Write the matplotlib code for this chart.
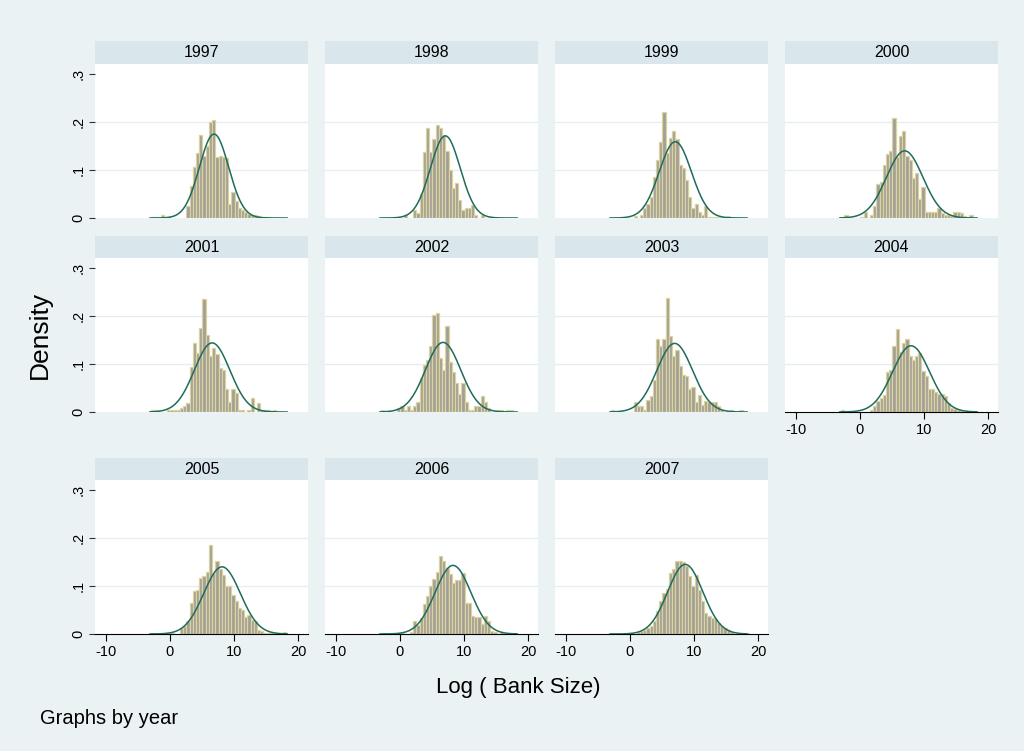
import numpy as np
import matplotlib
matplotlib.use('Agg')
import matplotlib.pyplot as plt

plt.rcParams['font.family'] = ['Liberation Sans', 'DejaVu Sans']

# histogram bins: left edge of first bin and width (Log bank size)
bin_start = -2.9
bin_width = 0.5

years = [1997, 1998, 1999, 2000, 2001, 2002, 2003, 2004, 2005, 2006, 2007]

# density of each bin
d1997 = [0.002, 0.003, 0, 0.006, 0, 0.003, 0, 0, 0, 0, 0, 0.026, 0.067, 0.107, 0.135,
         0.174, 0.13, 0.15, 0.2, 0.204, 0.128, 0.13, 0.128, 0.125, 0.03, 0.055, 0.035,
         0.02, 0.017, 0.012, 0.008, 0.006, 0.006, 0.004, 0.003, 0.003, 0.002, 0, 0, 0, 0, 0, 0]
d1998 = [0, 0, 0, 0, 0, 0, 0, 0.006, 0, 0, 0.017, 0.01, 0.05, 0.137, 0.187, 0.137, 0.165,
         0.194, 0.187, 0.172, 0.14, 0.1, 0.062, 0.072, 0.037, 0.017, 0.02, 0.02, 0.027,
         0.006, 0, 0.006, 0, 0, 0, 0, 0, 0, 0, 0, 0, 0, 0]
d1999 = [0, 0, 0, 0, 0, 0, 0, 0.004, 0, 0.006, 0.02, 0.03, 0.043, 0.085, 0.12, 0.159, 0.22,
         0.135, 0.166, 0.182, 0.165, 0.11, 0.105, 0.08, 0.043, 0.02, 0.03, 0.013, 0.006,
         0.024, 0.003, 0.003, 0.003, 0.003, 0, 0, 0.004, 0, 0, 0, 0, 0, 0]
d2000 = [0, 0.006, 0, 0, 0, 0, 0.003, 0.013, 0, 0.006, 0.026, 0.07, 0.075, 0.11, 0.133,
         0.14, 0.209, 0.128, 0.17, 0.182, 0.13, 0.12, 0.084, 0.093, 0.04, 0.065, 0.013,
         0.013, 0.013, 0.013, 0.02, 0.01, 0.006, 0.006, 0.004, 0.013, 0.013, 0.01, 0.004,
         0, 0.006, 0, 0]
d2001 = [0.005, 0.005, 0, 0, 0, 0.005, 0.005, 0.005, 0.005, 0.008, 0.012, 0.019, 0.094,
         0.144, 0.122, 0.175, 0.236, 0.161, 0.116, 0.133, 0.12, 0.092, 0.088, 0.047, 0.02,
         0.048, 0.04, 0.005, 0.005, 0, 0.005, 0.029, 0, 0.019, 0.005, 0.005, 0.005, 0,
         0.005, 0, 0, 0, 0]
d2002 = [0.005, 0, 0, 0, 0, 0.008, 0.012, 0.005, 0.012, 0.005, 0.012, 0.02, 0.07, 0.097,
         0.109, 0.137, 0.203, 0.207, 0.113, 0.088, 0.18, 0.104, 0.083, 0.06, 0.038, 0.06,
         0.02, 0.005, 0.005, 0.012, 0.012, 0.033, 0.02, 0.008, 0, 0, 0.005, 0.005, 0,
         0.005, 0.005, 0, 0]
d2003 = [0.005, 0, 0, 0, 0, 0, 0, 0.02, 0.012, 0.012, 0.005, 0.026, 0.033, 0.067, 0.152,
         0.137, 0.152, 0.238, 0.158, 0.116, 0.13, 0.095, 0.078, 0.074, 0.047, 0.053, 0.02,
         0.036, 0.015, 0.023, 0.02, 0.02, 0.02, 0.012, 0.005, 0, 0, 0.005, 0, 0, 0.005, 0, 0]
d2004 = [0.005, 0.003, 0.003, 0, 0, 0, 0, 0, 0, 0.005, 0.012, 0.022, 0.029, 0.035, 0.083,
         0.088, 0.137, 0.173, 0.126, 0.144, 0.153, 0.116, 0.108, 0.116, 0.123, 0.085,
         0.074, 0.047, 0.047, 0.041, 0.037, 0.038, 0.034, 0.019, 0.008, 0.006, 0.005,
         0.003, 0, 0.003, 0.003, 0.003, 0]
d2005 = [0.002, 0, 0, 0, 0, 0, 0.002, 0, 0, 0.013, 0.016, 0.027, 0.065, 0.09, 0.091, 0.117,
         0.12, 0.13, 0.186, 0.128, 0.152, 0.135, 0.123, 0.1, 0.1, 0.082, 0.068, 0.055,
         0.051, 0.036, 0.04, 0.03, 0.027, 0.009, 0.006, 0.002, 0.002, 0.002, 0.002, 0, 0,
         0.004, 0]
d2006 = [0.002, 0, 0, 0.002, 0, 0, 0.002, 0, 0, 0.004, 0.027, 0.018, 0.034, 0.062, 0.079,
         0.1, 0.115, 0.13, 0.162, 0.152, 0.138, 0.126, 0.107, 0.112, 0.113, 0.128, 0.064,
         0.064, 0.037, 0.036, 0.036, 0.021, 0.037, 0.027, 0.006, 0.004, 0, 0.004, 0, 0, 0,
         0.002, 0]
d2007 = [0.002, 0, 0, 0, 0, 0, 0, 0, 0.004, 0.006, 0.008, 0.013, 0.016, 0.027, 0.048,
         0.068, 0.086, 0.094, 0.128, 0.136, 0.152, 0.152, 0.15, 0.142, 0.121, 0.1, 0.123,
         0.091, 0.068, 0.044, 0.037, 0.034, 0.032, 0.023, 0.016, 0.013, 0.008, 0.004, 0,
         0, 0, 0, 0.002]
densities = [d1997, d1998, d1999, d2000, d2001, d2002, d2003, d2004, d2005, d2006, d2007]

# normal overlay: mean and sd per year
means = [6.9, 7.1, 7.1, 7.0, 6.6, 6.75, 7.0, 8.0, 8.15, 8.3, 8.65]
sds = [2.28, 2.33, 2.51, 2.85, 2.77, 2.75, 2.79, 2.89, 2.85, 2.79, 2.75]
data_min, data_max = -3.1, 18.3

W, H = 1024, 751
fig = plt.figure(figsize=(W / 100, H / 100), dpi=100)
fig.patch.set_facecolor('#EAF2F3')

col_left = [95, 325, 555, 785]
strip_top = [41, 236, 458]
plot_top = [64, 258, 480]
pw, ph = 213, 154


def px_axes(l, t, w, h):
    return fig.add_axes([l / W, 1 - (t + h) / H, w / W, h / H])


xs = np.linspace(data_min, data_max, 300)
for i, yr in enumerate(years):
    r, c = divmod(i, 4)
    # title strip
    sa = px_axes(col_left[c], strip_top[r], pw, plot_top[r] - strip_top[r])
    sa.set_facecolor('#D9E6EC')
    sa.set_xticks([])
    sa.set_yticks([])
    for s in sa.spines.values():
        s.set_visible(False)
    sa.text(0.5, 0.5, str(yr), ha='center', va='center', fontsize=11.5, transform=sa.transAxes)

    ax = px_axes(col_left[c], plot_top[r], pw, ph)
    ax.set_facecolor('white')
    ax.set_xlim(-11.67, 21.56)
    ax.set_ylim(0, 0.321)
    for g in [0.1, 0.2]:
        ax.axhline(g, color='#E4EDF0', lw=0.9, zorder=0)

    dens = np.array(densities[i])
    left = bin_start + bin_width * np.arange(len(dens))
    keep = dens > 0
    ax.bar(left[keep], dens[keep], width=bin_width, align='edge',
           color='#A29F98', edgecolor='#DCD49E', linewidth=0.9, zorder=2)
    pdf = np.exp(-0.5 * ((xs - means[i]) / sds[i]) ** 2) / (sds[i] * np.sqrt(2 * np.pi))
    ax.plot(xs, pdf, color='#1F6B5C', lw=1.1, zorder=3)

    for s in ax.spines.values():
        s.set_visible(False)
    if c == 0:
        ax.set_yticks([0, 0.1, 0.2, 0.3])
        ax.set_yticklabels(['0', '.1', '.2', '.3'], rotation=90, va='center', fontsize=10.5)
        ax.tick_params(axis='y', length=4, width=0.8, color='#333333', pad=3)
    else:
        ax.set_yticks([])
    bottom = (r == 2) or (yr == 2004)
    if bottom:
        ax.spines['bottom'].set_visible(True)
        ax.spines['bottom'].set_color('black')
        ax.spines['bottom'].set_linewidth(0.8)
        ax.set_xticks([-10, 0, 10, 20])
        ax.set_xticklabels(['-10', '0', '10', '20'], fontsize=10.5)
        ax.tick_params(axis='x', length=5, width=0.8, color='black', pad=3)
    else:
        ax.set_xticks([])

fig.text(40 / W, 1 - 335 / H, 'Density', rotation=90, ha='center', va='center', fontsize=19)
fig.text(518 / W, 1 - 688 / H, 'Log ( Bank Size)', ha='center', va='center', fontsize=16)
fig.text(40 / W, 1 - 718 / H, 'Graphs by year', ha='left', va='center', fontsize=14.5)

fig.savefig('out.png', dpi=100, facecolor=fig.get_facecolor())
